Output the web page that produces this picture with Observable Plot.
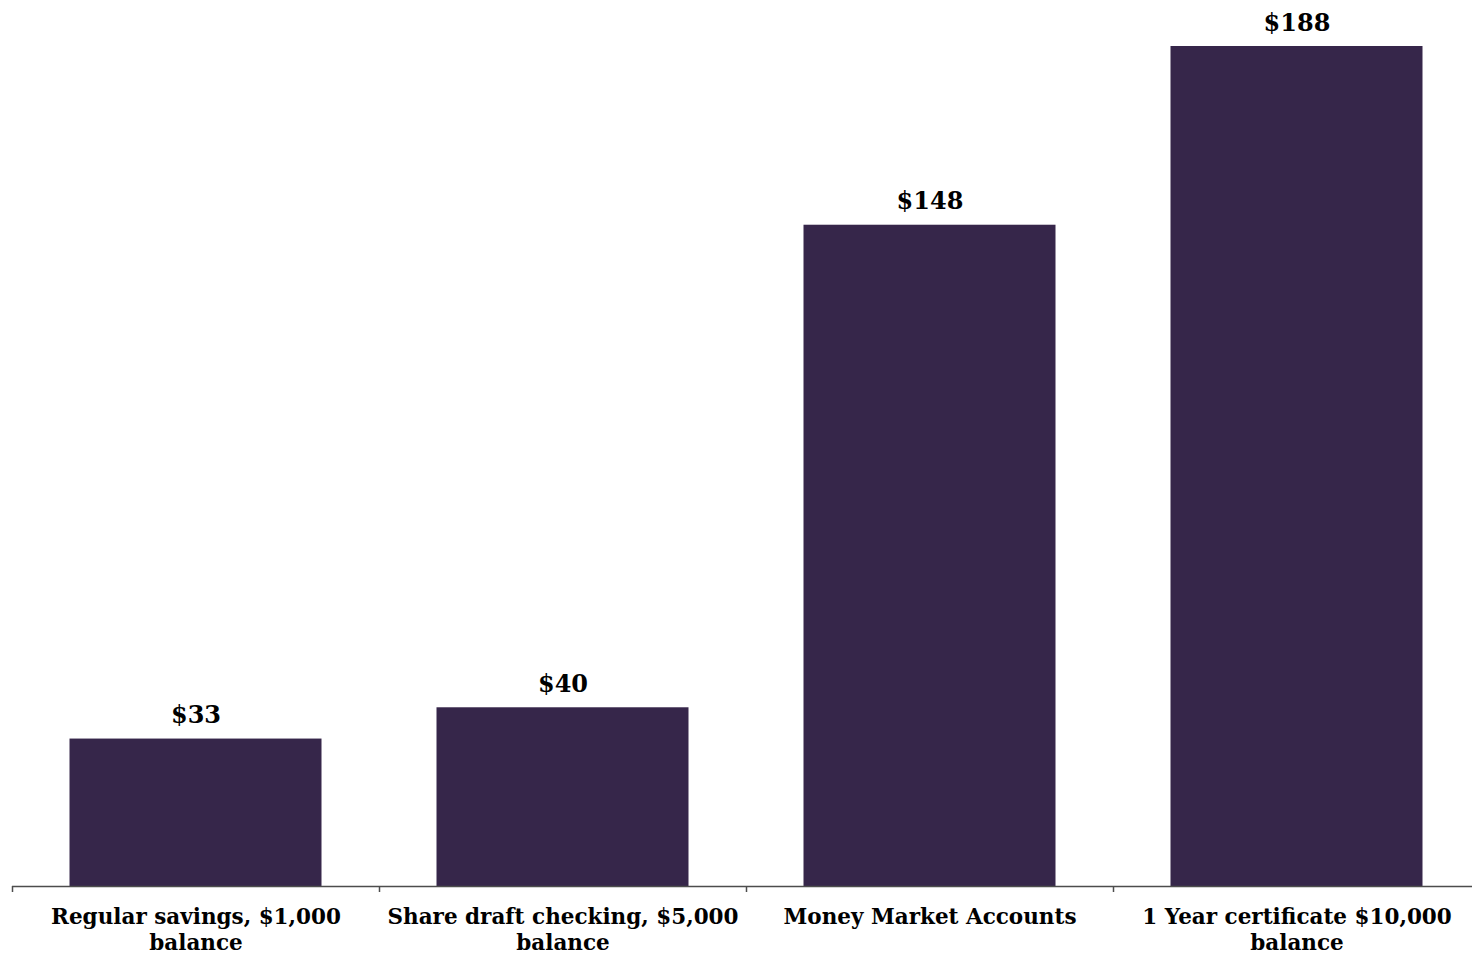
<!DOCTYPE html>
<html>
<head>
<meta charset="utf-8">
<script src="https://cdn.jsdelivr.net/npm/d3@7"></script>
<script src="https://cdn.jsdelivr.net/npm/@observablehq/plot@0.6"></script>
<style>
  html, body { margin: 0; padding: 0; background: #fff; overflow: hidden; }
  #chart svg { display: block; }
</style>
</head>
<body>
<div id="chart"></div>
<script>
const categories = [
  "Regular savings, $1,000 balance",
  "Share draft checking, $5,000 balance",
  "Money Market Accounts",
  "1 Year certificate $10,000 balance"
];
const tickLabels = [
  "Regular savings, $1,000\nbalance",
  "Share draft checking, $5,000\nbalance",
  "Money Market Accounts",
  "1 Year certificate $10,000\nbalance"
];
const values = [33, 40, 148, 188];
const valueLabels = ["$33", "$40", "$148", "$188"];

const data = categories.map((c, i) => ({category: c, value: values[i], label: valueLabels[i]}));
const labelOf = new Map(categories.map((c, i) => [c, tickLabels[i]]));

const font = "'DejaVu Serif', 'Liberation Serif', serif";
const W = 1472, H = 957;
const mL = 12, mR = -8;
const step = (W - mL - mR) / categories.length;

const chart = Plot.plot({
  width: W,
  height: H,
  marginLeft: mL,
  marginRight: mR,
  marginTop: 46,
  marginBottom: 71,
  style: {fontFamily: font, background: "#fff"},
  x: {domain: categories, padding: 0, axis: null},
  y: {domain: [0, 188], axis: null},
  marks: [
    Plot.barY(data, {x: "category", y: "value", fill: "#36264a", insetLeft: 57.5, insetRight: 57.5}),
    Plot.ruleY([0], {stroke: "#4d4d4d", strokeWidth: 1.5}),
    Plot.ruleX(data, {x: "category", y1: 0, y2: 0, dx: -step / 2, insetBottom: -6, stroke: "#4d4d4d", strokeWidth: 1.5}),
    Plot.text(data, {x: "category", y: "value", text: "label", dy: -16, lineAnchor: "bottom", fontSize: 24, fontWeight: "bold", fill: "#000"}),
    Plot.axisX({domain: categories, tickSize: 0, tickPadding: 19, lineAnchor: "top", fontSize: 21.5, fontWeight: "bold", fill: "#000", tickFormat: d => labelOf.get(d), lineHeight: 1.2, label: null})
  ]
});
document.getElementById("chart").append(chart);
</script>
</body>
</html>
